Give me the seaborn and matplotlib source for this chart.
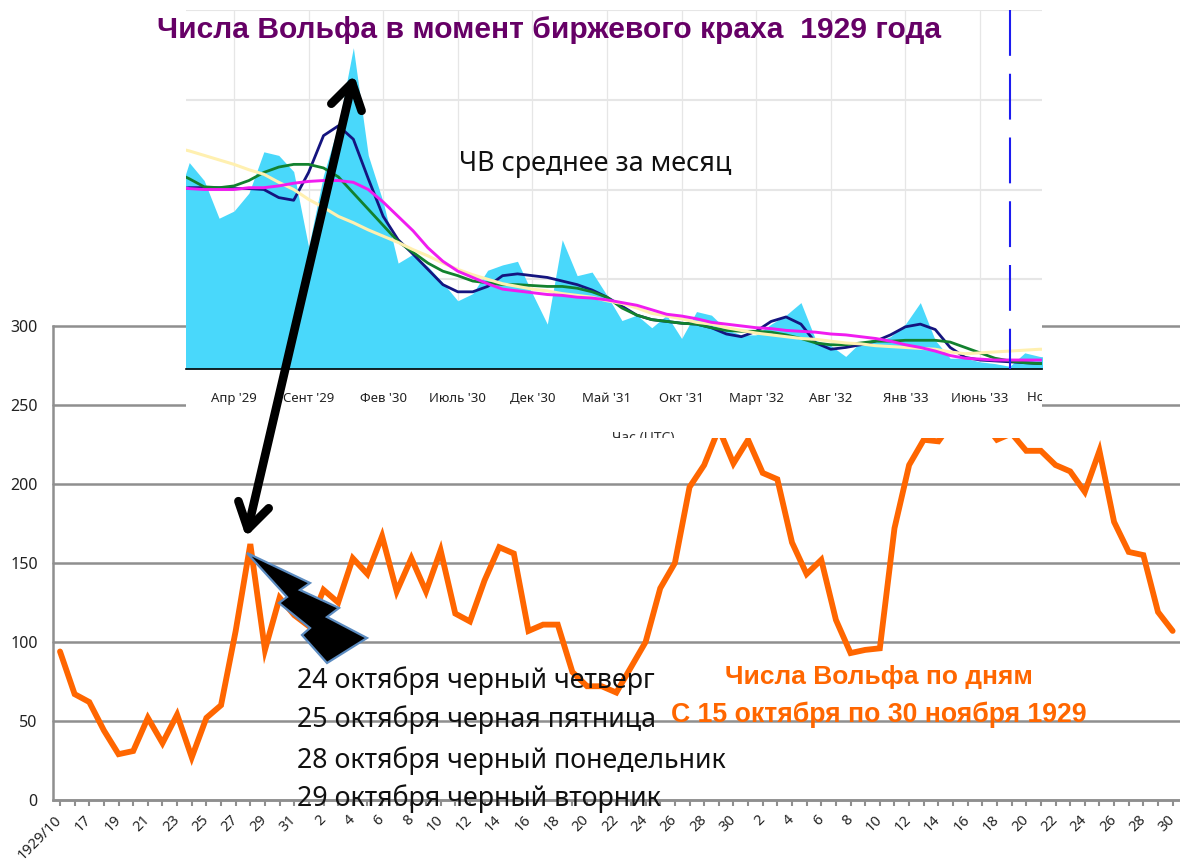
import numpy as np
import pandas as pd
import matplotlib
matplotlib.use("Agg")
import matplotlib.pyplot as plt
from matplotlib.patches import Polygon, Rectangle
from matplotlib.transforms import Bbox
import seaborn as sns

# daily Wolf numbers, 15 Oct - 30 Dec 1929 (61-65 hidden behind the inset)
daily_wolf = [94, 67, 62, 44, 29, 31, 52, 36, 54, 27, 52, 60, 107, 162, 95, 128, 117, 110, 133, 125,
              153, 143, 167, 132, 153, 132, 158, 118, 113, 139, 160, 156, 107, 111, 111, 81, 72, 72, 68, 84,
              100, 134, 150, 198, 212, 235, 213, 228, 207, 203, 163, 143, 152, 114, 93, 95, 96, 172, 212, 228,
              227, 240, 245, 240, 228, 232, 221, 221, 212, 208, 195, 221, 176, 157, 155, 119, 107]
day_labels = ["1929/10", "17", "19", "21", "23", "25", "27", "29", "31",
              "2", "4", "6", "8", "10", "12", "14", "16", "18", "20", "22", "24", "26", "28", "30",
              "2", "4", "6", "8", "10", "12", "14", "16", "18", "20", "22", "24", "26", "28", "30"]
main_yticks = [0, 50, 100, 150, 200, 250, 300]

# monthly values, Dec 1928 - Nov 1933
monthly_mean = [89, 115, 105, 84, 88, 98, 121, 119, 110, 68, 108, 136, 179, 119, 93, 59, 64, 57, 48, 38,
                42, 55, 58, 60, 42, 25, 72, 52, 54, 41, 27, 30, 23, 30, 17, 32, 30, 22, 19, 19,
                25, 30, 37, 16, 13, 7, 15, 15, 18, 25, 37, 16, 6, 6, 4, 3, 1.5, 9, 7, 6]
smooth_navy = [100, 101, 101, 101, 100.5, 100.5, 100, 95.5, 94, 109.5, 130, 135.5, 128, 106, 85, 72, 64, 55.5, 47, 43,
               43, 46, 52, 53, 52, 51, 49, 47, 44, 40, 35, 30, 27.5, 26.5, 25.5, 25, 23, 19.5, 18, 21,
               26.5, 29, 25, 14.5, 11, 12, 13.5, 15.5, 19, 23.5, 25, 22, 12, 6.5, 5, 4.5, 4, 3.5, 3, 3]
smooth_green = [110, 106, 101.5, 101, 102, 105, 109.5, 112.5, 114, 114, 112, 107, 98, 89, 80, 71, 65, 59, 54.5, 52,
                49, 48, 47, 47, 46.5, 46, 46, 45, 43, 40, 34, 30, 27.5, 26.5, 25.5, 25, 23, 21.5, 21, 21,
                20.5, 19, 17, 14.5, 13.5, 13.5, 14.5, 15.5, 15.5, 16, 16, 16, 15, 12, 9, 6, 4.5, 3.5, 3, 3]
smooth_magenta = [101.5, 100.5, 100, 100, 100, 101, 101, 102, 103.5, 104.5, 105, 105, 104, 100, 93, 85, 77, 67.5, 60, 54.5,
                  51, 47.5, 44.5, 43.5, 42.5, 41.5, 41, 40, 39.5, 38.5, 37, 35.5, 33, 30.5, 29.5, 28, 26, 25, 24, 23,
                  22.5, 21.5, 21, 20.5, 19.5, 19, 18, 17, 15.5, 13.5, 12, 10, 7.5, 6, 5.5, 5, 5, 5, 5, 5]
smooth_yellow = [123.5, 121.5, 119, 116.5, 114, 111, 108.5, 104, 100, 94.5, 90, 85, 81.5, 77.5, 74, 70.5, 66.5, 63, 59, 55.5,
                 52.5, 50, 47.5, 46, 44.5, 43.5, 42, 41, 40, 38, 36.5, 34, 31, 29.5, 28, 26, 25, 23, 21.5, 20,
                 19, 18, 17, 16.5, 15.5, 14.5, 14, 13, 12.5, 12, 11.5, 11, 9.5, 8.5, 9, 9.5, 10, 10.5, 11, 11]
month_labels = ["Апр '29", "Сент '29", "Фев '30", "Июль '30", "Дек '30", "Май '31", "Окт '31",
                "Март '32", "Авг '32", "Янв '33", "Июнь '33", "Нояб '33"]
inset_yticks = [50, 100, 150, 200]

crash_notes = ["24 октября черный четверг", "25 октября черная пятница",
               "28 октября черный понедельник", "29 октября черный вторник"]

W, H = 1180, 867
FONT = "Noto Sans"
BOLD_FONT = "Liberation Sans"
ORANGE = "#ff6600"
GRID = "#8f8f8f"
LIGHT = "#e6e6e6"

sns.set_theme(style="white")
plt.rcParams["font.family"] = [FONT, "DejaVu Sans"]


def px_axes(fig, left, top, right, bottom, **kw):
    return fig.add_axes([left / W, 1 - bottom / H, (right - left) / W, (bottom - top) / H], **kw)


fig = plt.figure(figsize=(W / 100, H / 100), dpi=100)

# %% main chart
daily = pd.DataFrame({"day": np.arange(len(daily_wolf)), "wolf": daily_wolf})
ax = px_axes(fig, 53, 326, 1180, 800, zorder=1)
sns.lineplot(data=daily, x="day", y="wolf", ax=ax, color=ORANGE, linewidth=4.2,
             errorbar=None, solid_joinstyle="miter", zorder=3)
ax.set_xlim(-7 / 14.64, (1180 - 60) / 14.64)
ax.set_ylim(0, 300)
ax.set_xlabel("")
ax.set_ylabel("")
ax.set_yticks(main_yticks)
ax.set_yticklabels(main_yticks, fontsize=11.5, color="#222222")
ax.tick_params(axis="y", length=0, pad=11)
ax.set_xticks(np.arange(0, len(daily_wolf), 2))
ax.set_xticklabels(day_labels, rotation=45, ha="right", va="center", rotation_mode="anchor",
                   fontsize=10.5, color="#222222")
ax.set_xticks(np.arange(len(daily_wolf)), minor=True)
ax.tick_params(axis="x", which="both", length=4, width=1.5, color=GRID, pad=9, bottom=True)
ax.grid(axis="y", color=GRID, linewidth=1.8)
for line in ax.get_ygridlines():
    line.set_clip_on(False)
ax.set_axisbelow(True)
for side in ["top", "right"]:
    ax.spines[side].set_visible(False)
for side in ["left", "bottom"]:
    ax.spines[side].set_color(GRID)
    ax.spines[side].set_linewidth(1.8)

# overlay in image pixels for the pasted patch and the annotations
cover = px_axes(fig, 0, 0, W, H, zorder=2)
cover.set_xlim(0, W)
cover.set_ylim(H, 0)
cover.axis("off")
cover.add_patch(Rectangle((186, 0), 1042 - 186, 438, facecolor="white", edgecolor="none"))
utc = cover.text(643, 431, "Час (UTC)", fontsize=10, ha="center", va="top", color="#333333")
utc.set_clip_box(Bbox([[186, H - 438], [1042, H]]))
utc.set_clip_on(True)

# %% inset, monthly means
monthly = pd.DataFrame({"month": np.arange(len(monthly_mean)), "mean": monthly_mean,
                        "navy": smooth_navy, "green": smooth_green,
                        "magenta": smooth_magenta, "yellow": smooth_yellow})
inset = px_axes(fig, 186, 10, 1042, 369, zorder=3)
inset.patch.set_alpha(0)
inset.fill_between(monthly["month"], monthly["mean"], color="#49d8fb", linewidth=0, zorder=2)
for col, colour, lw in [("navy", "#14147f", 2.0), ("green", "#12812e", 2.0),
                        ("yellow", "#fff0b0", 2.2), ("magenta", "#f01cf0", 2.1)]:
    sns.lineplot(data=monthly, x="month", y=col, ax=inset, color=colour, linewidth=lw, errorbar=None,
                 solid_joinstyle="round", zorder=3)
inset.axvline(52 + 4, ymin=1, ymax=0, color="#1c1cf0", linewidth=1.5, linestyle=(0, (22, 8.6)), zorder=4)
inset.set_xlim(4 - 48 / 14.92, 4 + 808 / 14.92)
inset.set_ylim(0, 200)
inset.set_xlabel("")
inset.set_ylabel("")
inset.set_yticks(inset_yticks)
inset.set_yticklabels([])
inset.tick_params(axis="y", length=0)
inset.set_xticks(np.arange(4, 58, 5))
inset.set_xticklabels(month_labels[:-1], fontsize=9.5, color="#222222", va="baseline")
inset.tick_params(axis="x", length=12, width=0.8, color=LIGHT, pad=11.5)
inset.grid(axis="y", color=LIGHT, linewidth=1.5)
inset.grid(axis="x", color=LIGHT, linewidth=0.9)
inset.set_axisbelow(True)
for side in ["top", "right", "left"]:
    inset.spines[side].set_visible(False)
inset.spines["bottom"].set_color("black")
inset.spines["bottom"].set_linewidth(1.2)

# %% annotations
notes = px_axes(fig, 0, 0, W, H, zorder=4)
notes.set_xlim(0, W)
notes.set_ylim(H, 0)
notes.axis("off")
nov = notes.text(1054, 401, month_labels[-1], fontsize=9.5, ha="center", va="baseline", color="#222222")
nov.set_clip_box(Bbox([[186, 0], [1042, H]]))
nov.set_clip_on(True)
notes.text(549, 30, "Числа Вольфа в момент биржевого краха  1929 года", fontsize=21.6, fontweight="bold",
           family=BOLD_FONT, color="#660066", ha="center", va="center")
notes.text(595, 164, "ЧВ среднее за месяц", fontsize=19.4, color="#111111", ha="center", va="center")
notes.annotate("", xy=(354, 75), xytext=(246, 537),
               arrowprops=dict(arrowstyle="<->,head_length=0.45,head_width=0.28", mutation_scale=40,
                               color="black", linewidth=6.2, shrinkA=0, shrinkB=0))
notes.add_patch(Polygon([(247, 553), (310, 583), (300, 590), (339, 608), (327, 617), (367, 638),
                         (327, 663), (302, 635), (310, 628), (279, 603), (287, 597)],
                        closed=True, facecolor="black", edgecolor="#5b8bc0", linewidth=1.6))
for text, y in zip(crash_notes, [681, 720, 761, 799]):
    notes.text(297, y, text, fontsize=19.3, color="#111111", ha="left", va="center")
notes.text(879, 677, "Числа Вольфа по дням", fontsize=19, fontweight="bold", family=BOLD_FONT,
           color=ORANGE, ha="center", va="center")
notes.text(879, 715, "С 15 октября по 30 ноября 1929", fontsize=19.2, fontweight="bold", family=BOLD_FONT,
           color=ORANGE, ha="center", va="center")

fig.savefig("out.png", dpi=100)
